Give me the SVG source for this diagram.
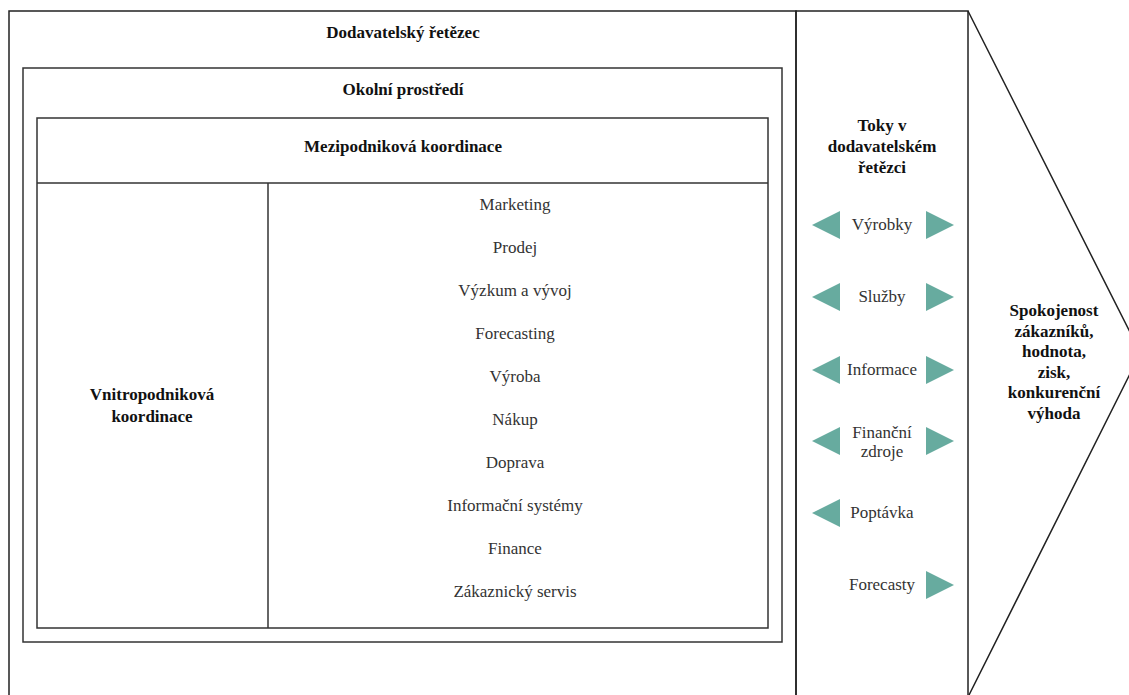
<svg xmlns="http://www.w3.org/2000/svg" width="1129" height="695" viewBox="0 0 1129 695">
<style>
.box{fill:none;stroke:#333;stroke-width:1.5}
.ln{fill:none;stroke:#222;stroke-width:1.5}
.t{font-family:"Liberation Serif","Times New Roman",serif;font-size:17px;text-anchor:middle}
.b{font-weight:bold;fill:#111}
.r{fill:#333}
.arr{fill:#67ab9f}
</style>
<rect width="1129" height="695" fill="#fff"/>
<g id="dodavatelsky-retezec">
<rect class="ln" x="9" y="11" width="787" height="700"/>
<text class="t b" x="403" y="38">Dodavatelský řetězec</text>
</g>
<g id="okolni-prostredi">
<rect class="box" x="23" y="68" width="759" height="574"/>
<text class="t b" x="403" y="95">Okolní prostředí</text>
</g>
<g id="mezipodnikova-koordinace">
<rect class="box" x="37" y="118" width="731" height="510"/>
<line class="box" x1="37" y1="183" x2="768" y2="183"/>
<text class="t b" x="403" y="152">Mezipodniková koordinace</text>
</g>
<g id="vnitropodnikova-koordinace">
<line class="box" x1="268" y1="183" x2="268" y2="628"/>
<text class="t b" x="152" y="400">Vnitropodniková</text>
<text class="t b" x="152" y="422">koordinace</text>
</g>
<g id="funkce">
<text class="t r" x="515" y="210">Marketing</text>
<text class="t r" x="515" y="253">Prodej</text>
<text class="t r" x="515" y="296">Výzkum a vývoj</text>
<text class="t r" x="515" y="339">Forecasting</text>
<text class="t r" x="515" y="382">Výroba</text>
<text class="t r" x="515" y="425">Nákup</text>
<text class="t r" x="515" y="468">Doprava</text>
<text class="t r" x="515" y="511">Informační systémy</text>
<text class="t r" x="515" y="554">Finance</text>
<text class="t r" x="515" y="597">Zákaznický servis</text>
</g>
<g id="toky">
<rect class="ln" x="796" y="11" width="172" height="700"/>
<text class="t b" x="882" y="131">Toky v</text>
<text class="t b" x="882" y="152">dodavatelském</text>
<text class="t b" x="882" y="173">řetězci</text>
<polygon class="arr" points="812,225 840,211 840,239"/>
<polygon class="arr" points="954,225 926,211 926,239"/>
<text class="t r" x="882" y="230">Výrobky</text>
<polygon class="arr" points="812,297 840,283 840,311"/>
<polygon class="arr" points="954,297 926,283 926,311"/>
<text class="t r" x="882" y="302">Služby</text>
<polygon class="arr" points="812,370 840,356 840,384"/>
<polygon class="arr" points="954,370 926,356 926,384"/>
<text class="t r" x="882" y="375">Informace</text>
<polygon class="arr" points="812,441 840,427 840,455"/>
<polygon class="arr" points="954,441 926,427 926,455"/>
<text class="t r" x="882" y="438">Finanční</text>
<text class="t r" x="882" y="457">zdroje</text>
<polygon class="arr" points="812,513 840,499 840,527"/>
<text class="t r" x="882" y="518">Poptávka</text>
<polygon class="arr" points="954,585 926,571 926,599"/>
<text class="t r" x="882" y="590">Forecasty</text>
</g>
<g id="vysledek">
<polyline class="ln" points="968,11 1140.5,353 969,695"/>
<text class="t b" x="1054" y="316">Spokojenost</text>
<text class="t b" x="1054" y="336.5">zákazníků,</text>
<text class="t b" x="1054" y="357">hodnota,</text>
<text class="t b" x="1054" y="377.5">zisk,</text>
<text class="t b" x="1054" y="398">konkurenční</text>
<text class="t b" x="1054" y="418.5">výhoda</text>
</g>
<g id="connectors"></g>
</svg>
